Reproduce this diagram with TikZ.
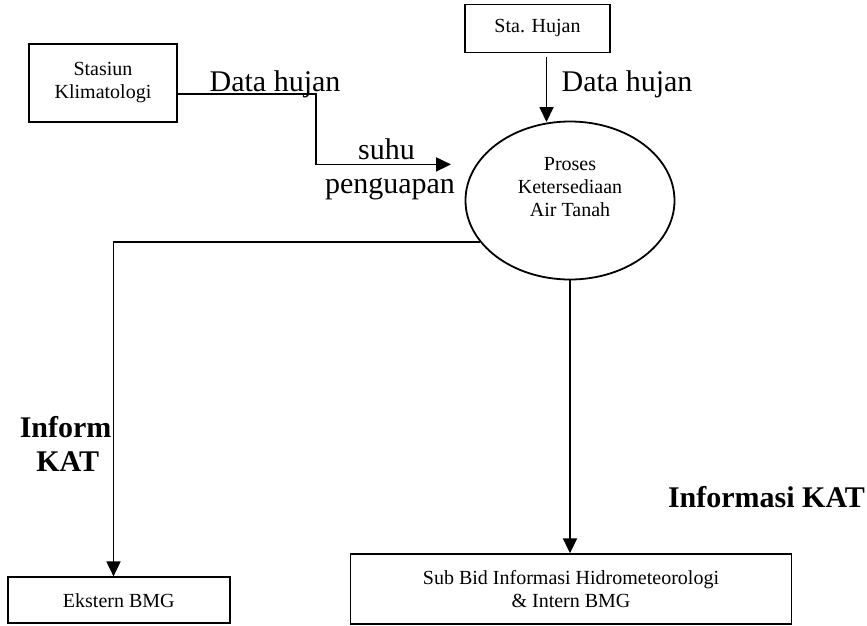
\documentclass[tikz,border=0pt]{standalone}
\usepackage{fontspec}
\setmainfont{Liberation Serif}
\usetikzlibrary{arrows.meta,shapes.geometric}
\begin{document}
\begin{tikzpicture}[x=1pt,y=-1pt,
  line width=1.8pt,
  small/.style={font=\fontsize{20}{23}\selectfont},
  big/.style={font=\fontsize{30}{34}\selectfont},
  bigbold/.style={font=\fontsize{30}{34}\selectfont\bfseries},
  entity/.style={draw,rectangle,inner sep=0pt,small,align=center},
  flow/.style={-{Triangle[length=15pt,width=14pt]}},
  plain/.style={inner sep=0pt}]
\useasboundingbox (0,0) rectangle (867,625);

% external entities
\node[entity,minimum width=148pt,minimum height=78pt] (klim) at (103,83) {Stasiun\\Klimatologi};
\node[entity,minimum width=145pt,minimum height=48pt] (hujan) at (537.5,28.5) {Sta. Hujan};
\node[entity,minimum width=222pt,minimum height=46pt] (ekst) at (118.8,600.3) {Ekstern BMG};
\node[entity,minimum width=441pt,minimum height=70pt] (sub) at (571,589.2) {Sub Bid Informasi Hidrometeorologi\\\& Intern BMG};

% process
\node[draw,ellipse,minimum width=209pt,minimum height=158pt,inner sep=0pt] (proc) at (570,200.5) {};
\node[small,align=center,plain] (proctext) at (570,187) {Proses\\Ketersediaan\\Air Tanah};

% free arrow ends
\coordinate (klimend) at (451,164.4);
\coordinate (hujanend) at (546.5,122);

% data flows
\draw[flow] ([yshift=-11pt]klim.east) -| (315.6,164.4) -- (klimend);
\draw[flow] ([xshift=9pt,yshift=-4pt]hujan.south) -- (hujanend);
\draw[flow] (proc.205) -| ([xshift=-5.3pt]ekst.north);
\draw[flow] (proc.south) -- (proc.south |- sub.north);

% flow labels
\node[big,plain,anchor=base] (l1) at (275,91) {Data hujan};
\node[big,plain,anchor=base] (l2) at (627,91) {Data hujan};
\node[big,plain,anchor=base] (l3) at (386.5,159) {suhu};
\node[big,plain,anchor=base] (l4) at (390,193.5) {penguapan};
\node[bigbold,plain,anchor=base] (l5) at (65.6,437) {Inform};
\node[bigbold,plain,anchor=base] (l6) at (67.8,471) {KAT};
\node[bigbold,plain,anchor=base] (l7) at (766.5,507) {Informasi KAT};
\end{tikzpicture}
\end{document}
